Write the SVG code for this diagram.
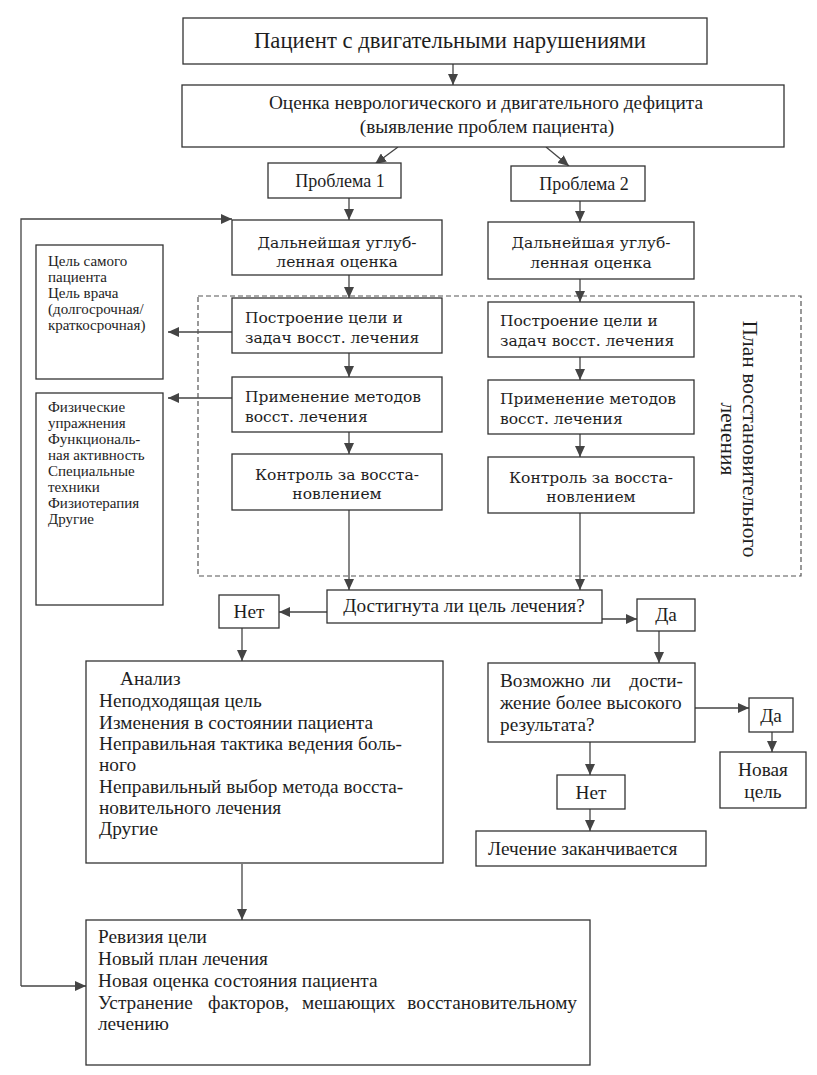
<svg xmlns="http://www.w3.org/2000/svg" width="817" height="1075" viewBox="0 0 817 1075">
<defs>
<style>
.box{fill:#fff;stroke:#333;stroke-width:1.3}
.dash{fill:none;stroke:#555;stroke-width:1.2;stroke-dasharray:5,3}
.c{fill:none;stroke:#444;stroke-width:1.3}
.t{font-family:"Liberation Serif","Times New Roman",serif;fill:#1e1e1e}
.n{font-size:19.3px}
.s{font-size:15px}
.w{font-family:"DejaVu Serif",serif;fill:#1e1e1e;font-size:15.5px}
.m{text-anchor:middle}
</style>
<marker id="ah" markerUnits="userSpaceOnUse" markerWidth="12" markerHeight="10" refX="11" refY="5" orient="auto">
<path d="M0,0 L11,5 L0,10 z" fill="#444"/>
</marker>
</defs>
<rect width="817" height="1075" fill="#fff"/>

<g id="connectors">
<path class="c" d="M453,64 V85" marker-end="url(#ah)"/>
<path class="c" d="M398,147 L375,164" marker-end="url(#ah)"/>
<path class="c" d="M546,147 L569,166" marker-end="url(#ah)"/>
<path class="c" d="M349,198 V220" marker-end="url(#ah)"/>
<path class="c" d="M580,201 V222" marker-end="url(#ah)"/>
<path class="c" d="M21,986 V219 H232" marker-end="url(#ah)"/>
<path class="c" d="M21,986 H86" marker-end="url(#ah)"/>
<path class="c" d="M349,275 V298" marker-end="url(#ah)"/>
<path class="c" d="M349,353 V377" marker-end="url(#ah)"/>
<path class="c" d="M349,432 V454" marker-end="url(#ah)"/>
<path class="c" d="M349,510 V590" marker-end="url(#ah)"/>
<path class="c" d="M580,279 V302" marker-end="url(#ah)"/>
<path class="c" d="M580,357 V380" marker-end="url(#ah)"/>
<path class="c" d="M580,434 V457" marker-end="url(#ah)"/>
<path class="c" d="M580,513 V590" marker-end="url(#ah)"/>
<path class="c" d="M232,332 H168" marker-end="url(#ah)"/>
<path class="c" d="M232,398 H168" marker-end="url(#ah)"/>
<path class="c" d="M327,612 H279" marker-end="url(#ah)"/>
<path class="c" d="M602,619 H637" marker-end="url(#ah)"/>
<path class="c" d="M242,628 V661" marker-end="url(#ah)"/>
<path class="c" d="M659,631 V663" marker-end="url(#ah)"/>
<path class="c" d="M695,708 H749" marker-end="url(#ah)"/>
<path class="c" d="M772,732 V752" marker-end="url(#ah)"/>
<path class="c" d="M590,742 V775" marker-end="url(#ah)"/>
<path class="c" d="M590,809 V831" marker-end="url(#ah)"/>
<path class="c" d="M242,864 V920" marker-end="url(#ah)"/>
</g>

<g id="plan-frame">
<rect class="dash" x="198" y="296" width="603" height="280"/>
<text class="t m" font-size="21.5" transform="translate(743,439) rotate(90)">План восстановительного</text>
<text class="t m" font-size="21.5" transform="translate(721,439) rotate(90)">лечения</text>
</g>

<g id="n-patient">
<rect class="box" x="183" y="18" width="524" height="46"/>
<text class="t m" x="450" y="48" font-size="22.7">Пациент с двигательными нарушениями</text>
</g>
<g id="n-assess">
<rect class="box" x="182" y="85" width="602" height="62"/>
<text class="t m n" x="486" y="109">Оценка неврологического и двигательного дефицита</text>
<text class="t m n" x="487" y="133">(выявление проблем пациента)</text>
</g>
<g id="n-p1">
<rect class="box" x="268" y="163" width="133" height="35"/>
<text class="t m" x="340" y="187" font-size="18">Проблема  1</text>
</g>
<g id="n-p2">
<rect class="box" x="511" y="166" width="134" height="35"/>
<text class="t m" x="584" y="190" font-size="18">Проблема  2</text>
</g>

<g id="n-deep1">
<rect class="box" x="232" y="220" width="210" height="55"/>
<text class="w m" x="337" y="248">Дальнейшая углуб-</text>
<text class="w m" x="337" y="267">ленная оценка</text>
</g>
<g id="n-deep2">
<rect class="box" x="488" y="222" width="206" height="57"/>
<text class="w m" x="591" y="248">Дальнейшая углуб-</text>
<text class="w m" x="591" y="268">ленная оценка</text>
</g>
<g id="n-goal1">
<rect class="box" x="232" y="298" width="210" height="55"/>
<text class="w" x="245" y="323">Построение цели и</text>
<text class="w" x="245" y="343">задач восст. лечения</text>
</g>
<g id="n-goal2">
<rect class="box" x="488" y="302" width="206" height="55"/>
<text class="w" x="500" y="326">Построение цели и</text>
<text class="w" x="500" y="346">задач восст. лечения</text>
</g>
<g id="n-meth1">
<rect class="box" x="232" y="377" width="210" height="55"/>
<text class="w" x="245" y="402">Применение методов</text>
<text class="w" x="245" y="422">восст. лечения</text>
</g>
<g id="n-meth2">
<rect class="box" x="488" y="380" width="206" height="54"/>
<text class="w" x="500" y="404">Применение методов</text>
<text class="w" x="500" y="424">восст. лечения</text>
</g>
<g id="n-ctrl1">
<rect class="box" x="232" y="454" width="210" height="56"/>
<text class="w m" x="337" y="480">Контроль за восста-</text>
<text class="w m" x="337" y="499">новлением</text>
</g>
<g id="n-ctrl2">
<rect class="box" x="488" y="457" width="206" height="56"/>
<text class="w m" x="591" y="483">Контроль за восста-</text>
<text class="w m" x="591" y="502">новлением</text>
</g>

<g id="n-goals-list">
<rect class="box" x="36" y="245" width="127" height="134"/>
<text class="t s"><tspan x="48" y="266">Цель самого</tspan><tspan x="48" y="282">пациента</tspan><tspan x="48" y="298">Цель врача</tspan><tspan x="48" y="314">(долгосрочная/</tspan><tspan x="48" y="330">краткосрочная)</tspan></text>
</g>
<g id="n-methods-list">
<rect class="box" x="36" y="393" width="127" height="212"/>
<text class="t s"><tspan x="48" y="412">Физические</tspan><tspan x="48" y="428">упражнения</tspan><tspan x="48" y="444">Функциональ-</tspan><tspan x="48" y="460">ная активность</tspan><tspan x="48" y="476">Специальные</tspan><tspan x="48" y="492">техники</tspan><tspan x="48" y="508">Физиотерапия</tspan><tspan x="48" y="524">Другие</tspan></text>
</g>

<g id="n-reached">
<rect class="box" x="327" y="590" width="275" height="33"/>
<text class="t m n" x="464" y="612">Достигнута ли цель лечения?</text>
</g>
<g id="n-no1">
<rect class="box" x="219" y="595" width="60" height="33"/>
<text class="t m n" x="249" y="618">Нет</text>
</g>
<g id="n-yes1">
<rect class="box" x="637" y="599" width="58" height="32"/>
<text class="t m n" x="666" y="621">Да</text>
</g>
<g id="n-analysis">
<rect class="box" x="86" y="661" width="357" height="202"/>
<text class="t n"><tspan x="120" y="685">Анализ</tspan><tspan x="99" y="707">Неподходящая цель</tspan><tspan x="99" y="729">Изменения в состоянии пациента</tspan><tspan x="99" y="750">Неправильная тактика ведения боль-</tspan><tspan x="99" y="771">ного</tspan><tspan x="99" y="793">Неправильный выбор метода восста-</tspan><tspan x="99" y="814">новительного лечения</tspan><tspan x="99" y="835">Другие</tspan></text>
</g>
<g id="n-possible">
<rect class="box" x="488" y="663" width="207" height="79"/>
<text class="t n"><tspan x="500" y="687">Возможно</tspan><tspan x="591" y="687">ли</tspan><tspan x="683" y="687" text-anchor="end">дости-</tspan><tspan x="500" y="709">жение более высокого</tspan><tspan x="500" y="731">результата?</tspan></text>
</g>
<g id="n-yes2">
<rect class="box" x="749" y="698" width="44" height="34"/>
<text class="t m n" x="771" y="722">Да</text>
</g>
<g id="n-newgoal">
<rect class="box" x="720" y="752" width="86" height="56"/>
<text class="t m n" x="763" y="776">Новая</text>
<text class="t m n" x="763" y="798">цель</text>
</g>
<g id="n-no2">
<rect class="box" x="557" y="775" width="68" height="34"/>
<text class="t m n" x="591" y="799">Нет</text>
</g>
<g id="n-end">
<rect class="box" x="476" y="831" width="230" height="35"/>
<text class="t n" x="488" y="855">Лечение заканчивается</text>
</g>
<g id="n-revision">
<rect class="box" x="86" y="920" width="504" height="145"/>
<text class="t n"><tspan x="98" y="943">Ревизия цели</tspan><tspan x="98" y="965">Новый план лечения</tspan><tspan x="98" y="987">Новая оценка состояния пациента</tspan><tspan x="98" y="1009">Устранение</tspan><tspan x="208" y="1009">факторов,</tspan><tspan x="302" y="1009">мешающих</tspan><tspan x="577" y="1009" text-anchor="end">восстановительному</tspan><tspan x="98" y="1030">лечению</tspan></text>
</g>
</svg>
